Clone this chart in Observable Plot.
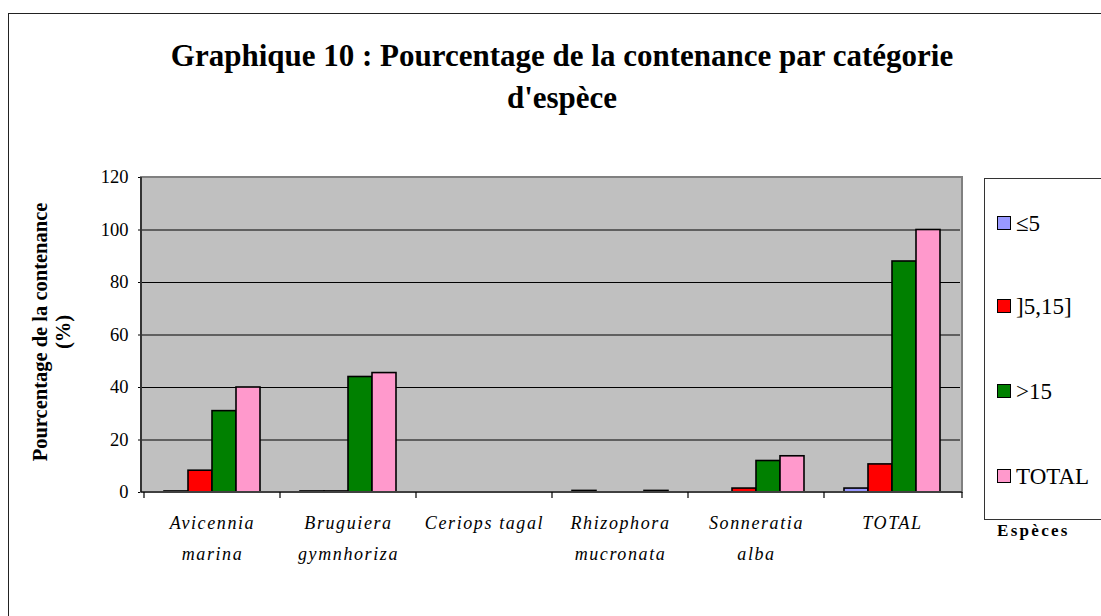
<!DOCTYPE html>
<html><head><meta charset="utf-8">
<script src="https://cdn.jsdelivr.net/npm/d3@7"></script>
<script src="https://cdn.jsdelivr.net/npm/@observablehq/plot@0.6"></script>
<style>
body{margin:0;background:#fff;}
#wrap{position:relative;width:1101px;height:616px;overflow:hidden;font-family:"Liberation Serif","Times New Roman",serif;color:#000;}
#frame{position:absolute;left:8px;top:13px;width:1200px;height:700px;border:1.5px solid #222;box-sizing:border-box;}
#title{position:absolute;left:0;width:1124px;top:35px;text-align:center;font-weight:bold;font-size:31px;line-height:42px;font-family:"Liberation Serif",serif;}
#ylab{position:absolute;left:52px;top:332px;transform:translate(-50%,-50%) rotate(-90deg);text-align:center;font-weight:bold;font-size:20.5px;line-height:23px;white-space:nowrap;font-family:"Liberation Serif",serif;}
#legend{position:absolute;left:984px;top:178px;width:200px;height:342px;border:1.5px solid #333;box-sizing:border-box;}
.item{position:absolute;left:12px;font-size:23px;line-height:24px;white-space:nowrap;font-family:"Liberation Serif",serif;}
.sw{display:inline-block;width:12px;height:12px;border:1.5px solid #000;vertical-align:middle;margin-right:5px;position:relative;top:-3px;}
#esp{position:absolute;left:997px;top:521px;font-weight:bold;font-size:17px;letter-spacing:2.3px;font-family:"Liberation Serif",serif;}
#chart{position:absolute;left:0;top:0;}
#chart svg{overflow:visible;}
</style>
</head><body>
<div id="wrap">
  <div id="frame"></div>
  <div id="title">Graphique 10 : Pourcentage de la contenance par catégorie<br>d'espèce</div>
  <div id="chart"></div>
  <div id="ylab">Pourcentage de la contenance<br>(%)</div>
  <div id="legend"></div>
  <div id="esp">Espèces</div>
</div>
<script>
const categories = ["Avicennia marina","Bruguiera gymnhoriza","Ceriops tagal","Rhizophora mucronata","Sonneratia alba","TOTAL"];
const categoryLabels = ["Avicennia\nmarina","Bruguiera\ngymnhoriza","Ceriops tagal","Rhizophora\nmucronata","Sonneratia\nalba","TOTAL"];
const series = ["≤5","]5,15]",">15","TOTAL"];
const le5   = [0.4, 0.4, 0, 0.6, 0, 1.5];
const b5_15 = [8.3, 0.4, 0, 0, 1.5, 10.7];
const gt15  = [31, 44, 0, 0, 12, 88];
const total = [40, 45.5, 0, 0.6, 13.8, 100];
const colors = ["#9999ff","#ff0000","#008000","#ff99cc"];
const yTicks = [0,20,40,60,80,100,120];

const valuesBySeries = [le5, b5_15, gt15, total];
const rows = [];
categories.forEach((c,i)=>series.forEach((s,j)=>{
  rows.push({cat:c, series:s, value:valuesBySeries[j][i]});
}));
const labelRows = categories.map((c,i)=>({cat:c,label:categoryLabels[i]}));

const chart = Plot.plot({
  width:1101, height:616,
  marginLeft:141, marginRight:139, marginTop:177, marginBottom:124,
  style:{fontFamily:'"Liberation Serif","Times New Roman",serif', fontSize:"18.5px", background:"transparent", color:"#000", overflow:"visible"},
  fx:{domain:categories, padding:0, axis:null, label:null},
  x:{domain:series, padding:0, paddingOuter:0.74, axis:null},
  y:{domain:[0,120], ticks:yTicks, tickSize:6, tickPadding:10, label:null},
  color:{domain:series, range:colors},
  marks:[
    Plot.ruleY(yTicks.filter(t=>t>0 && t<120), {stroke:"#000", strokeWidth:1}),
    Plot.barY(rows, {fx:"cat", x:"series", y:"value", fill:"series", stroke:"#000", strokeWidth:1.6}),
    Plot.text(labelRows, {fx:"cat", text:"label", frameAnchor:"bottom", dy:14, lineAnchor:"top", lineHeight:1.75, fontStyle:"italic", fontSize:18})
  ]
});
document.getElementById("chart").appendChild(chart);

// plot-area background, border, axis lines and category ticks, from the library's scales
const fx = chart.scale("fx"), ys = chart.scale("y");
const svgEl = chart.tagName.toLowerCase()==="svg" ? chart : chart.querySelector("svg");
const svg = d3.select(svgEl);
const xl = fx.range[0], xr = fx.range[1];
const y0 = ys.apply(0), yt = ys.apply(120);
svg.insert("rect", "g").attr("x",xl).attr("y",yt).attr("width",xr-xl).attr("height",y0-yt).attr("fill","#c0c0c0");
const g = svg.append("g");
g.append("rect").attr("x",xl).attr("y",yt).attr("width",xr-xl).attr("height",y0-yt)
  .attr("fill","none").attr("stroke","#808080").attr("stroke-width",2);
g.append("line").attr("x1",xl).attr("x2",xl).attr("y1",yt).attr("y2",y0).attr("stroke","#000").attr("stroke-width",1.2);
g.append("line").attr("x1",xl).attr("x2",xr).attr("y1",y0).attr("y2",y0).attr("stroke","#000").attr("stroke-width",1.2);
categories.map(c=>fx.apply(c)).concat([xr]).forEach(x=>{
  g.append("line").attr("x1",x).attr("x2",x).attr("y1",y0).attr("y2",y0+6).attr("stroke","#000").attr("stroke-width",1.2);
});
svg.selectAll("text").filter(function(){return this.getAttribute("font-style")==="italic"||this.closest('[font-style="italic"]');})
  .attr("letter-spacing","1.6px");

// legend
const legend = document.getElementById("legend");
const legendTops = [33, 116, 201, 286];
series.forEach((s,j)=>{
  const d = document.createElement("div");
  d.className="item";
  d.style.top = (legendTops[j]) + "px";
  d.innerHTML = `<span class="sw" style="background:${colors[j]}"></span>`;
  d.appendChild(document.createTextNode(s));
  legend.appendChild(d);
});
</script>
</body></html>
